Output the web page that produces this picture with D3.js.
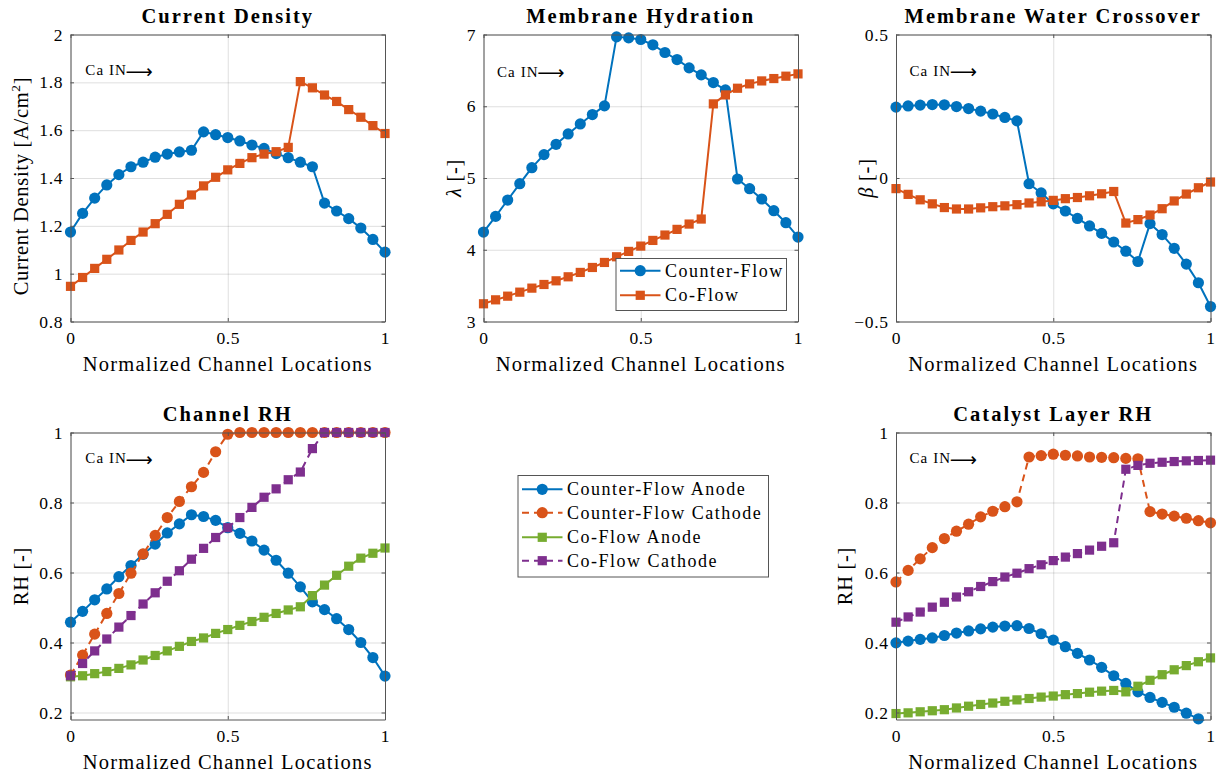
<!DOCTYPE html>
<html>
<head>
<meta charset="utf-8">
<script src="https://cdn.jsdelivr.net/npm/d3@7"></script>
<style>
  body { margin: 0; background: #fff; }
  svg text { font-family: "Liberation Serif", "Times New Roman", serif; fill: #000; }
</style>
</head>
<body>
<svg id="fig" width="1225" height="776"></svg>
<script>
// Normalized positions along the channel
const xLoc = [0, 0.0385, 0.0769, 0.1154, 0.1538, 0.1923, 0.2308, 0.2692, 0.3077, 0.3462, 0.3846, 0.4231, 0.4615, 0.5,
  0.5385, 0.5769, 0.6154, 0.6538, 0.6923, 0.7308, 0.7692, 0.8077, 0.8462, 0.8846, 0.9231, 0.9615, 1];

// Current density [A/cm^2]
const currentCounter = [1.174, 1.252, 1.316, 1.371, 1.414, 1.447, 1.466, 1.487, 1.500, 1.509, 1.516, 1.593, 1.581, 1.569,
  1.555, 1.538, 1.524, 1.502, 1.485, 1.466, 1.447, 1.295, 1.262, 1.230, 1.191, 1.143, 1.090];
const currentCo = [0.947, 0.984, 1.022, 1.060, 1.099, 1.139, 1.174, 1.209, 1.248, 1.290, 1.329, 1.367, 1.403, 1.434,
  1.461, 1.485, 1.500, 1.510, 1.528, 1.803, 1.777, 1.747, 1.720, 1.686, 1.654, 1.619, 1.586];

// Membrane water content lambda [-]
const lambdaCounter = [4.247, 4.465, 4.693, 4.921, 5.144, 5.326, 5.470, 5.614, 5.753, 5.884, 6.005, 6.967, 6.953, 6.930,
  6.856, 6.749, 6.651, 6.535, 6.437, 6.330, 6.228, 4.986, 4.851, 4.707, 4.544, 4.377, 4.177];
const lambdaCo = [3.247, 3.302, 3.353, 3.409, 3.465, 3.516, 3.567, 3.623, 3.684, 3.753, 3.823, 3.902, 3.977, 4.051,
  4.130, 4.205, 4.284, 4.358, 4.428, 6.033, 6.158, 6.251, 6.312, 6.353, 6.386, 6.419, 6.451];

// Net water transport coefficient beta [-]
const betaCounter = [0.247, 0.251, 0.254, 0.256, 0.255, 0.249, 0.242, 0.233, 0.223, 0.211, 0.199, -0.020, -0.052, -0.090,
  -0.115, -0.141, -0.167, -0.193, -0.223, -0.255, -0.291, -0.159, -0.197, -0.245, -0.300, -0.365, -0.448];
const betaCo = [-0.037, -0.057, -0.076, -0.090, -0.103, -0.108, -0.108, -0.104, -0.100, -0.097, -0.093, -0.087, -0.083, -0.078,
  -0.072, -0.068, -0.062, -0.055, -0.047, -0.157, -0.145, -0.129, -0.107, -0.080, -0.056, -0.034, -0.014];

// Gas channel relative humidity [-]
const chCfAnode = [0.458, 0.489, 0.522, 0.553, 0.588, 0.620, 0.652, 0.681, 0.713, 0.739, 0.765, 0.760, 0.749, 0.728,
  0.712, 0.690, 0.664, 0.635, 0.598, 0.559, 0.516, 0.494, 0.468, 0.437, 0.400, 0.357, 0.304];
const chCfCathode = [0.307, 0.364, 0.424, 0.483, 0.540, 0.598, 0.653, 0.706, 0.757, 0.803, 0.845, 0.886, 0.945, 0.995,
  1, 1, 1, 1, 1, 1, 1, 1, 1, 1, 1, 1, 1];
const chCoAnode = [0.302, 0.305, 0.311, 0.317, 0.326, 0.336, 0.350, 0.363, 0.376, 0.389, 0.403, 0.413, 0.426, 0.437,
  0.449, 0.460, 0.472, 0.483, 0.493, 0.502, 0.534, 0.564, 0.592, 0.618, 0.641, 0.655, 0.670];
const chCoCathode = [0.305, 0.340, 0.376, 0.410, 0.444, 0.477, 0.510, 0.542, 0.575, 0.605, 0.638, 0.669, 0.700, 0.728,
  0.757, 0.786, 0.815, 0.839, 0.865, 0.887, 0.954, 1, 1, 1, 1, 1, 1];

// Catalyst layer relative humidity [-]
const clCfAnode = [0.399, 0.404, 0.409, 0.413, 0.420, 0.427, 0.433, 0.439, 0.444, 0.447, 0.448, 0.440, 0.425, 0.407,
  0.388, 0.369, 0.350, 0.329, 0.305, 0.283, 0.259, 0.243, 0.229, 0.215, 0.198, 0.182, 0.165];
const clCfCathode = [0.573, 0.606, 0.639, 0.671, 0.697, 0.718, 0.738, 0.759, 0.775, 0.788, 0.802, 0.930, 0.934, 0.938,
  0.935, 0.933, 0.930, 0.929, 0.928, 0.926, 0.925, 0.774, 0.767, 0.761, 0.755, 0.748, 0.742];
const clCoAnode = [0.197, 0.199, 0.202, 0.205, 0.208, 0.213, 0.218, 0.223, 0.227, 0.232, 0.236, 0.240, 0.244, 0.247,
  0.251, 0.254, 0.258, 0.261, 0.263, 0.259, 0.275, 0.292, 0.308, 0.322, 0.334, 0.345, 0.356];
const clCoCathode = [0.458, 0.473, 0.487, 0.501, 0.515, 0.530, 0.545, 0.560, 0.574, 0.587, 0.598, 0.611, 0.622, 0.634,
  0.644, 0.654, 0.664, 0.675, 0.685, 0.895, 0.906, 0.912, 0.915, 0.917, 0.919, 0.920, 0.921];

// Tick values
const xTicks = [0, 0.5, 1];
const currentTicks = [0.8, 1, 1.2, 1.4, 1.6, 1.8, 2];
const lambdaTicks = [3, 4, 5, 6, 7];
const betaTicks = [-0.5, 0, 0.5];
const rhTicks = [0.2, 0.4, 0.6, 0.8, 1];

// Series names
const twoSeriesNames = ["Counter-Flow", "Co-Flow"];
const fourSeriesNames = ["Counter-Flow Anode", "Counter-Flow Cathode", "Co-Flow Anode", "Co-Flow Cathode"];

const SERIF = "Liberation Serif";
const C = { blue: "#0072BD", orange: "#D95319", green: "#77AC30", purple: "#7E2F8E" };
const AX = "#262626";
const W = 314.5, H = 287;
const svg = d3.select("#fig");
const fmt = d3.format("~g");

const styleCF  = { color: C.blue,   marker: "circle", dash: null };
const styleCO  = { color: C.orange, marker: "square", dash: null };
const styleCFA = { color: C.blue,   marker: "circle", dash: null };
const styleCFC = { color: C.orange, marker: "circle", dash: "7,5" };
const styleCOA = { color: C.green,  marker: "square", dash: null };
const styleCOC = { color: C.purple, marker: "square", dash: "7,5" };

function drawMarker(g, type, cx, cy, color) {
  if (type === "circle") {
    g.append("circle").attr("cx", cx).attr("cy", cy).attr("r", 5.6).attr("fill", color);
  } else {
    g.append("rect").attr("x", cx - 4.6).attr("y", cy - 4.6).attr("width", 9.2).attr("height", 9.2).attr("fill", color);
  }
}

function drawPanel(p, idx) {
  const g = svg.append("g");
  const x = d3.scaleLinear().domain([0, 1]).range([p.left, p.left + W]);
  const y = d3.scaleLinear().domain(p.yDomain).range([p.top + H, p.top]);

  // grid lines
  const gy = g.append("g").attr("transform", `translate(${p.left},0)`)
    .call(d3.axisLeft(y).tickValues(p.yTicks).tickSize(-W).tickFormat(""));
  const gx = g.append("g").attr("transform", `translate(0,${p.top + H})`)
    .call(d3.axisBottom(x).tickValues(xTicks).tickSize(-H).tickFormat(""));
  [gy, gx].forEach(a => {
    a.select(".domain").remove();
    a.selectAll(".tick line").attr("stroke", AX).attr("stroke-opacity", 0.15).attr("stroke-width", 1);
  });

  // data
  const clipId = "clip" + idx;
  g.append("clipPath").attr("id", clipId).append("rect")
    .attr("x", p.left - 1.5).attr("y", p.top - 1.5).attr("width", W + 3).attr("height", H + 3);
  const [ymin, ymax] = p.yDomain;
  p.series.forEach(s => {
    const pts = xLoc.map((xv, i) => [xv, s.values[i]]);
    g.append("path").datum(pts)
      .attr("clip-path", `url(#${clipId})`)
      .attr("fill", "none").attr("stroke", s.style.color).attr("stroke-width", 2)
      .attr("stroke-dasharray", s.style.dash)
      .attr("stroke-linejoin", "round")
      .attr("d", d3.line().x(d => x(d[0])).y(d => y(d[1])));
    const mg = g.append("g");
    pts.filter(d => d[1] >= ymin && d[1] <= ymax)
      .forEach(d => drawMarker(mg, s.style.marker, x(d[0]), y(d[1]), s.style.color));
  });

  // axes with inward ticks on all four sides
  const left = g.append("g").attr("transform", `translate(${p.left},0)`)
    .call(d3.axisLeft(y).tickValues(p.yTicks).tickFormat(fmt).tickSizeInner(-3.5).tickSizeOuter(0).tickPadding(7.5));
  const right = g.append("g").attr("transform", `translate(${p.left + W},0)`)
    .call(d3.axisRight(y).tickValues(p.yTicks).tickFormat("").tickSizeInner(-3.5).tickSizeOuter(0));
  const bottom = g.append("g").attr("transform", `translate(0,${p.top + H})`)
    .call(d3.axisBottom(x).tickValues(xTicks).tickFormat(fmt).tickSizeInner(-3.5).tickSizeOuter(0).tickPadding(10));
  const top = g.append("g").attr("transform", `translate(0,${p.top})`)
    .call(d3.axisTop(x).tickValues(xTicks).tickFormat("").tickSizeInner(-3.5).tickSizeOuter(0));
  [left, right, bottom, top].forEach(a => {
    a.attr("font-family", SERIF).attr("font-size", null);
    a.select(".domain").attr("stroke", "#555").attr("stroke-width", 1);
    a.selectAll(".tick line").attr("stroke", "#555").attr("stroke-width", 1);
    a.selectAll(".tick text").attr("font-family", SERIF).attr("font-size", 17.5)
      .attr("letter-spacing", 0.6).attr("fill", "#111");
  });

  // title
  g.append("text").attr("x", p.left + W / 2).attr("y", p.top - 11.8)
    .attr("font-family", SERIF).attr("text-anchor", "middle").attr("font-weight", "bold").attr("font-size", 20.5)
    .attr("letter-spacing", 2).text(p.title);

  // x label
  g.append("text").attr("x", p.left + W / 2).attr("y", p.top + H + 49.5)
    .attr("font-family", SERIF).attr("text-anchor", "middle").attr("font-size", 20.5).attr("letter-spacing", 1.2)
    .attr("fill", "#111").text("Normalized Channel Locations");

  // y label
  const yl = g.append("text")
    .attr("transform", `translate(${p.ylabelX},${p.top + H / 2 + p.ylabelShift}) rotate(-90)`)
    .attr("font-family", SERIF).attr("text-anchor", "middle").attr("font-size", 20.5)
    .attr("letter-spacing", 0.7).attr("fill", "#111");
  p.ylabel(yl);

  // inlet annotation
  g.append("text").attr("x", x(p.note[0])).attr("y", y(p.note[1]))
    .attr("font-family", SERIF).attr("font-size", 15).attr("letter-spacing", 1.1).attr("dominant-baseline", "middle")
    .text("Ca IN")
    .append("tspan").attr("font-family", "DejaVu Sans").attr("font-size", 19).attr("letter-spacing", 0)
    .attr("dx", -1.5).text("\u27F6");

  return { x, y, g };
}

function drawLegend(box, names, styles, rowYs) {
  const g = svg.append("g");
  g.append("rect").attr("x", box.x + 0.5).attr("y", box.y + 0.5).attr("width", box.w).attr("height", box.h)
    .attr("fill", "#fff").attr("stroke", "#555").attr("stroke-width", 1);
  names.forEach((n, i) => {
    const ry = box.y + rowYs[i];
    const lx0 = box.x + 4.5, lx1 = box.x + 45;
    g.append("line").attr("x1", lx0).attr("x2", lx1).attr("y1", ry).attr("y2", ry)
      .attr("stroke", styles[i].color).attr("stroke-width", 2).attr("stroke-dasharray", styles[i].dash);
    drawMarker(g, styles[i].marker, (lx0 + lx1) / 2, ry, styles[i].color);
    g.append("text").attr("x", box.x + 49.5).attr("y", ry).attr("dominant-baseline", "central")
      .attr("font-family", SERIF).attr("font-size", 18).attr("letter-spacing", 1.5).attr("fill", "#111").text(n);
  });
}

const panels = [
  {
    title: "Current Density", left: 70.5, top: 34.5, yDomain: [0.8, 2], yTicks: currentTicks,
    ylabelX: 27.5, ylabelShift: 8,
    note: [0.047, 1.843],
    ylabel: t => {
      t.append("tspan").text("Current Density [A/cm");
      t.append("tspan").attr("font-size", 13.5).attr("dy", -8).text("2");
      t.append("tspan").attr("dy", 8).text("]");
    },
    series: [{ values: currentCounter, style: styleCF }, { values: currentCo, style: styleCO }]
  },
  {
    title: "Membrane Hydration", left: 483.5, top: 34.5, yDomain: [3, 7], yTicks: lambdaTicks,
    ylabelX: 461, ylabelShift: 0,
    note: [0.043, 6.46],
    ylabel: t => {
      t.append("tspan").attr("font-style", "italic").text("\u03BB");
      t.append("tspan").text(" [-]");
    },
    series: [{ values: lambdaCounter, style: styleCF }, { values: lambdaCo, style: styleCO }]
  },
  {
    title: "Membrane Water Crossover", left: 896, top: 34.5, yDomain: [-0.5, 0.5], yTicks: betaTicks,
    ylabelX: 873, ylabelShift: 0,
    note: [0.043, 0.369],
    ylabel: t => {
      t.append("tspan").attr("font-style", "italic").text("\u03B2");
      t.append("tspan").text(" [-]");
    },
    series: [{ values: betaCounter, style: styleCF }, { values: betaCo, style: styleCO }]
  },
  {
    title: "Channel RH", left: 70.5, top: 432.5, yDomain: [0.18, 1], yTicks: rhTicks,
    ylabelX: 27.5, ylabelShift: 0,
    note: [0.047, 0.922],
    ylabel: t => t.text("RH [-]"),
    series: [
      { values: chCfAnode, style: styleCFA }, { values: chCfCathode, style: styleCFC },
      { values: chCoAnode, style: styleCOA }, { values: chCoCathode, style: styleCOC }
    ]
  },
  {
    title: "Catalyst Layer RH", left: 896, top: 432.5, yDomain: [0.18, 1], yTicks: rhTicks,
    ylabelX: 852, ylabelShift: 0,
    note: [0.043, 0.922],
    ylabel: t => t.text("RH [-]"),
    series: [
      { values: clCfAnode, style: styleCFA }, { values: clCfCathode, style: styleCFC },
      { values: clCoAnode, style: styleCOA }, { values: clCoCathode, style: styleCOC }
    ]
  }
];

panels.forEach((p, i) => drawPanel(p, i));

drawLegend({ x: 615.5, y: 258, w: 170.5, h: 52 }, twoSeriesNames, [styleCF, styleCO], [12.7, 37.3]);
drawLegend({ x: 517.5, y: 475, w: 250.5, h: 101.5 }, fourSeriesNames, [styleCFA, styleCFC, styleCOA, styleCOC],
  [14.3, 37.7, 62.3, 85.7]);
</script>
</body>
</html>
